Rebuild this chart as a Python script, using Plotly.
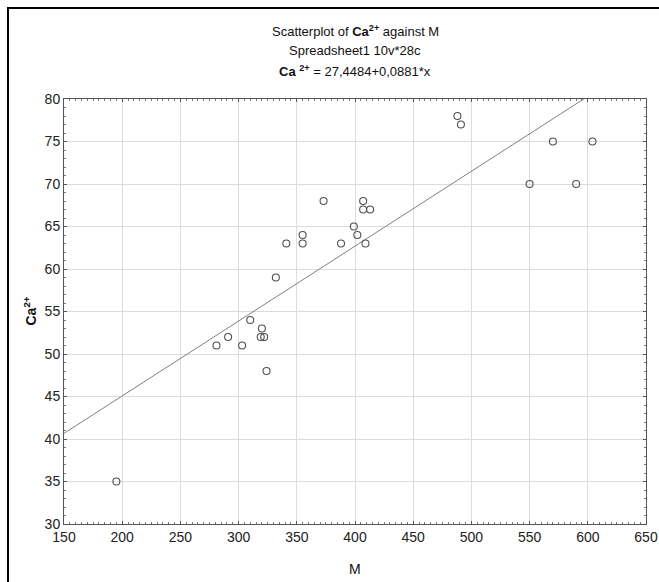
import plotly.graph_objects as go

# Data
M_values = [195, 281, 291, 303, 310, 320, 319, 322, 324, 332, 341, 355, 355, 373,
            388, 399, 402, 407, 407, 413, 409, 488, 491, 550, 570, 590, 604]
Ca_values = [35, 51, 52, 51, 54, 53, 52, 52, 48, 59, 63, 64, 63, 68,
             63, 65, 64, 68, 67, 67, 63, 78, 77, 70, 75, 70, 75]

intercept = 27.4484
slope = 0.0881
fit_x = [150, 650]
fit_y = [intercept + slope * v for v in fit_x]

x_ticks = [150, 200, 250, 300, 350, 400, 450, 500, 550, 600, 650]
y_ticks = [30, 35, 40, 45, 50, 55, 60, 65, 70, 75, 80]

W, H = 659, 582
L, R, T, B = 64, 13, 99, 58
pw, ph = W - L - R, H - T - B

def px_x(px):
    return (px - L) / pw

def px_y(py):
    return 1 + (T - py) / ph

FONT = "Liberation Sans, Arial, sans-serif"

fig = go.Figure()
fig.add_trace(go.Scatter(
    x=fit_x, y=fit_y, mode="lines",
    line=dict(color="#808080", width=1), hoverinfo="skip", showlegend=False))
fig.add_trace(go.Scatter(
    x=M_values, y=Ca_values, mode="markers",
    marker=dict(symbol="circle-open", size=7, color="#505050", line=dict(width=1.1)),
    showlegend=False))

axis_common = dict(
    showline=True, linecolor="#555555", linewidth=1, mirror="allticks",
    ticks="inside", ticklen=3, tickcolor="#555555",
    showgrid=True, gridcolor="#dcdcdc", gridwidth=1, zeroline=False,
    tickfont=dict(family=FONT, size=14, color="#222222"),
)

fig.update_xaxes(range=[150, 650], tickvals=x_ticks, ticktext=[str(v) for v in x_ticks],
                 minor=dict(dtick=5, ticks="inside", ticklen=2, tickcolor="#777777", showgrid=False),
                 **axis_common)
fig.update_yaxes(range=[30, 80], tickvals=y_ticks, ticktext=[str(v) for v in y_ticks],
                 minor=dict(dtick=1, ticks="inside", ticklen=2, tickcolor="#777777", showgrid=False),
                 **axis_common)

title_lines = [
    "Scatterplot of <b>Ca<sup>2+</sup></b> against M",
    "Spreadsheet1 10v*28c",
    "<b>Ca</b> <b><sup>2+</sup></b> = 27,4484+0,0881*x",
]
title_y_px = [31, 51, 71]
annotations = []
for txt, yp in zip(title_lines, title_y_px):
    annotations.append(dict(text=txt, x=0.5, y=px_y(yp), xref="paper", yref="paper",
                            xanchor="center", yanchor="middle", showarrow=False,
                            font=dict(family=FONT, size=13, color="#111111")))
annotations.append(dict(text="M", x=0.5, y=px_y(569), xref="paper", yref="paper",
                        xanchor="center", yanchor="middle", showarrow=False,
                        font=dict(family=FONT, size=14, color="#111111")))
annotations.append(dict(text="<b>Ca<sup>2+</sup></b>", x=px_x(30), y=0.5, xref="paper", yref="paper",
                        xanchor="center", yanchor="middle", showarrow=False, textangle=-90,
                        font=dict(family=FONT, size=14, color="#111111")))

shapes = [dict(type="rect", xref="paper", yref="paper",
               x0=px_x(8), x1=px_x(680), y0=px_y(610), y1=px_y(8),
               line=dict(color="#000000", width=2), fillcolor="rgba(0,0,0,0)", layer="above")]

fig.update_layout(
    width=W, height=H,
    margin=dict(l=L, r=R, t=T, b=B, autoexpand=False),
    paper_bgcolor="white", plot_bgcolor="white",
    annotations=annotations, shapes=shapes,
    font=dict(family=FONT),
)

fig.write_html("out.html", config={"displayModeBar": False},
               post_script="document.body.style.margin='0px';document.body.style.overflow='hidden';")
